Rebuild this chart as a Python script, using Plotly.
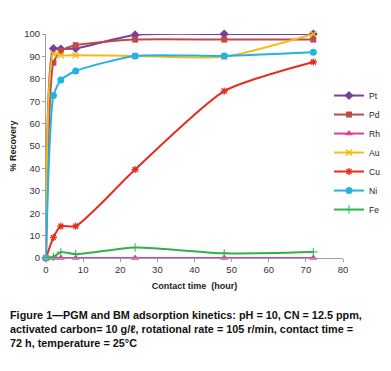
import plotly.graph_objects as go

hours = [0, 2, 4, 8, 24, 48, 72]
pt = [0, 93.5, 93.3, 93.5, 99.6, 100, 100]
pd_ = [0, 87.2, 92.4, 95, 97.5, 97.5, 97.5]
rh = [0, 0, 0, 0, 0, 0, 0]
au = [0, 91.2, 90.5, 90.5, 90.2, 89.8, 100]
cu = [0, 9.2, 14.2, 14.2, 39.5, 74.5, 87.5]
ni = [0, 72.5, 79.5, 83.5, 90.2, 90.2, 91.8]
fe = [0, 0.5, 2.6, 1.7, 4.7, 2.1, 2.7]

series = [
    ("Pt", pt, "#7A3F9D", "diamond", 7, 0),
    ("Pd", pd_, "#BE4B48", "square", 6, 0),
    ("Rh", rh, "#D8409E", "triangle-up", 7, 0),
    ("Au", au, "#F7B916", "x-thin-open", 6, 1.5),
    ("Cu", cu, "#E62C1E", "asterisk-open", 6, 1.3),
    ("Ni", ni, "#22B3E6", "circle", 7, 0),
    ("Fe", fe, "#2EB24B", "cross-thin-open", 6, 1),
]

fig = go.Figure()
for name, vals, col, sym, sz, lw in series:
    fig.add_trace(go.Scatter(
        x=hours, y=vals, name=name, mode="lines+markers",
        line=dict(color=col, width=2, shape="spline", smoothing=0.6),
        marker=dict(symbol=sym, size=sz, color=col, line=dict(color=col, width=lw)),
        cliponaxis=False,
    ))

# the page body adds an 8px margin, so the figure is 8px smaller and shifted
W, H = 383, 363
ML, MR, MT, MB = 38, 2, 26, 113
PW = W - ML - MR  # 343
fig.update_layout(
    width=W, height=H,
    margin=dict(l=ML, r=MR, t=MT, b=MB, autoexpand=False),
    paper_bgcolor="white", plot_bgcolor="white",
    font=dict(family="Liberation Sans, Arial, sans-serif", size=9, color="#333333"),
    showlegend=True,
    legend=dict(x=(321 - ML) / PW, y=0.79, xanchor="left", yanchor="top",
                font=dict(size=8.5, color="#222222"), itemwidth=30,
                borderwidth=0, tracegroupgap=0, bgcolor="rgba(0,0,0,0)"),
    xaxis=dict(domain=[0, 297 / PW], range=[0, 80], dtick=10, showgrid=False, zeroline=False,
               showline=True, linecolor="#A0A0A0", linewidth=1, automargin=False,
               ticks="outside", ticklen=3, tickcolor="#A0A0A0",
               tickfont=dict(size=9.5, color="#333333"),
               title=dict(text="<b>Contact time  (hour)</b>", font=dict(size=9, color="#222222"), standoff=8)),
    yaxis=dict(range=[0, 100], dtick=10, showgrid=False, zeroline=False,
               showline=True, linecolor="#A0A0A0", linewidth=1, automargin=False,
               ticks="outside", ticklen=3, tickcolor="#A0A0A0",
               tickfont=dict(size=9.5, color="#333333"),
               title=dict(text="<b>% Recovery</b>", font=dict(size=9, color="#222222"), standoff=19)),
)

caption = ("Figure 1\u2014PGM and BM adsorption kinetics: pH = 10, CN = 12.5 ppm,<br>"
           "activated carbon= 10 g/\u2113, rotational rate = 105 r/min, contact time =<br>"
           "72 h, temperature = 25\u00b0C")
fig.add_annotation(text="<b>" + caption + "</b>", xref="paper", yref="paper",
                   x=-ML / PW, y=-(299 - 250) / 224, xanchor="left", yanchor="top",
                   xshift=0, align="left", showarrow=False,
                   font=dict(family="Liberation Sans, Arial, sans-serif", size=10.85, color="#111111"))

fig.write_html("out.html")
